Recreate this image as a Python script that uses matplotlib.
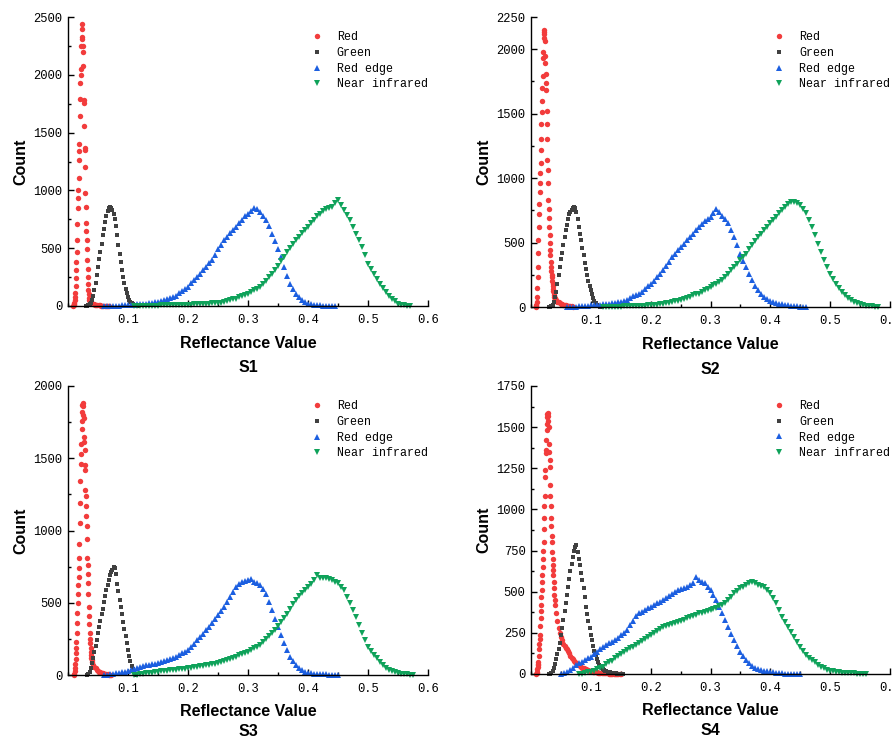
import numpy as np
import matplotlib
matplotlib.use("Agg")
import matplotlib.pyplot as plt
from matplotlib.ticker import MultipleLocator, FixedLocator

# histogram bin widths (reflectance)
RED_STEP = 0.0005
TAIL_STEP = 0.002
GRN_STEP = 0.002
BROAD_STEP = 0.005

labels = ["Red", "Green", "Red edge", "Near infrared"]
panels = ["S1", "S2", "S3", "S4"]
ymax = [2500, 2250, 2000, 1750]

# ---- S1 ----
s1_red_x0 = 0.009
s1_red = [0, 5, 15, 30, 55, 80, 110, 170, 240, 310, 380, 470, 570, 710, 845, 930, 1000, 1110,
          1265, 1340, 1400, 1640, 1790, 1930, 2000, 2050, 2250, 2330, 2440, 2400, 2310, 2250,
          2200, 2080, 1780, 1760, 1560, 1370, 1350, 1200, 980, 860, 720, 650, 570, 490, 400,
          320, 250, 190, 140, 100, 70, 50, 40, 30, 25]
s1_red_tail_x0 = 0.039
s1_red_tail = [22, 18, 15, 12, 10, 8, 6, 5, 4, 3, 3, 2, 2, 1, 1, 0]
s1_grn_x0 = 0.030
s1_grn = [0, 2, 5, 15, 30, 55, 90, 140, 200, 270, 340, 410, 470, 540, 610, 670, 730, 780, 820,
          845, 860, 850, 830, 800, 750, 690, 610, 530, 450, 380, 310, 250, 195, 150, 110, 80,
          55, 38, 25, 15, 9, 5, 2, 1]
s1_re_x0 = 0.060
s1_re = [0, 1, 2, 2, 3, 4, 5, 7, 8, 10, 12, 13, 15, 18, 21, 25, 28, 31, 35, 42, 50, 58, 68, 78,
         90, 110, 128, 145, 165, 195, 225, 250, 280, 310, 340, 370, 395, 440, 490, 530, 570,
         600, 630, 660, 685, 715, 745, 775, 800, 825, 845, 835, 815, 780, 740, 690, 627, 560,
         497, 420, 338, 260, 194, 145, 107, 75, 50, 32, 20, 14, 10, 8, 6, 4, 3, 2, 1, 0]
s1_nir_x0 = 0.110
s1_nir = [0, 1, 1, 2, 2, 3, 3, 4, 4, 5, 5, 6, 6, 7, 8, 8, 9, 10, 10, 12, 13, 14, 15, 17, 19, 21,
          23, 24, 25, 30, 35, 42, 50, 57, 64, 75, 85, 95, 107, 120, 135, 150, 165, 190, 220,
          250, 280, 315, 350, 390, 425, 465, 500, 535, 570, 600, 630, 660, 685, 715, 745, 775,
          800, 820, 835, 850, 860, 895, 915, 870, 830, 785, 740, 685, 627, 570, 510, 440, 367,
          320, 275, 235, 194, 155, 120, 90, 64, 40, 20, 12, 6, 2, 0]

# ---- S2 ----
s2_red_x0 = 0.008
s2_red = [0, 5, 15, 35, 80, 150, 230, 310, 420, 520, 620, 720, 800, 890, 960, 1040, 1120, 1220,
          1300, 1420, 1510, 1600, 1700, 1790, 1930, 1980, 2120, 2150, 2130, 2090, 2060, 1950,
          1890, 1810, 1740, 1680, 1520, 1420, 1300, 1140, 1060, 960, 830, 760, 690, 620, 560,
          500, 440, 400, 350, 310, 280, 250, 230, 200, 180, 160, 140, 125, 110, 95, 80, 70, 62]
s2_red_tail_x0 = 0.042
s2_red_tail = [52, 42, 35, 28, 24, 20, 17, 14, 12, 10, 8, 6, 5, 4, 3]
s2_grn_x0 = 0.030
s2_grn = [0, 2, 5, 12, 35, 75, 120, 180, 250, 310, 370, 420, 480, 540, 600, 640, 680, 720, 740,
          755, 770, 778, 770, 740, 680, 620, 570, 520, 460, 400, 345, 295, 250, 205, 165, 130,
          100, 70, 45, 30, 18, 10, 5, 2, 0]
s2_re_x0 = 0.060
s2_re = [0, 1, 2, 3, 4, 6, 8, 10, 13, 15, 17, 19, 21, 24, 27, 30, 33, 36, 39, 48, 58, 70, 82,
         93, 104, 120, 140, 160, 181, 205, 230, 258, 285, 315, 350, 385, 415, 440, 465, 492,
         518, 545, 570, 598, 622, 645, 665, 685, 700, 730, 760, 735, 705, 680, 648, 600, 544,
         480, 415, 360, 311, 258, 207, 165, 130, 100, 78, 60, 44, 36, 30, 25, 20, 16, 13, 10,
         8, 5, 3, 1, 0]
s2_nir_x0 = 0.120
s2_nir = [0, 1, 1, 2, 2, 3, 3, 4, 5, 5, 6, 7, 8, 9, 10, 12, 13, 16, 19, 22, 25, 29, 33, 38, 43,
          48, 52, 60, 70, 80, 90, 97, 104, 117, 130, 142, 155, 168, 181, 194, 207, 232, 258,
          285, 311, 337, 363, 390, 415, 448, 480, 512, 544, 570, 596, 622, 648, 674, 700, 726,
          752, 778, 803, 812, 816, 805, 790, 760, 726, 675, 622, 555, 492, 425, 363, 310, 259,
          220, 181, 148, 117, 92, 70, 54, 39, 28, 20, 15, 11, 8, 5, 2, 0]

# ---- S3 ----
s3_red_x0 = 0.010
s3_red = [0, 10, 25, 45, 75, 110, 150, 190, 230, 290, 360, 430, 495, 560, 620, 680, 740, 810,
          910, 1050, 1190, 1340, 1460, 1530, 1600, 1700, 1760, 1820, 1870, 1885, 1860, 1800,
          1780, 1650, 1610, 1560, 1450, 1420, 1280, 1240, 1170, 1100, 1030, 940, 810, 760, 700,
          640, 560, 470, 410, 350, 290, 250, 220, 190, 160, 140, 120, 105, 90]
s3_red_tail_x0 = 0.042
s3_red_tail = [70, 55, 45, 37, 30, 24, 19, 15, 12, 9, 7, 5, 4, 3, 2, 1]
s3_grn_x0 = 0.032
s3_grn = [0, 5, 20, 45, 80, 115, 160, 200, 245, 290, 335, 375, 420, 460, 505, 545, 585, 625,
          660, 690, 715, 730, 745, 740, 700, 630, 580, 520, 470, 420, 370, 320, 270, 220, 175,
          130, 95, 65, 40, 20, 8, 2]
s3_re_x0 = 0.060
s3_re = [0, 2, 5, 8, 11, 14, 18, 22, 26, 34, 42, 50, 58, 62, 66, 70, 74, 78, 82, 90, 98, 106,
         114, 120, 127, 138, 150, 162, 175, 195, 215, 240, 265, 285, 310, 333, 357, 385, 415,
         445, 472, 505, 541, 575, 610, 630, 645, 652, 657, 665, 645, 635, 622, 595, 564, 505,
         449, 390, 334, 275, 219, 170, 127, 95, 69, 50, 35, 24, 16, 13, 10, 8, 7, 5, 4, 3, 2,
         1, 0]
s3_nir_x0 = 0.110
s3_nir = [0, 3, 6, 9, 12, 14, 17, 20, 23, 25, 28, 30, 33, 35, 37, 40, 42, 44, 46, 50, 54, 57,
          60, 64, 68, 72, 76, 78, 81, 88, 96, 104, 112, 120, 127, 136, 144, 152, 161, 172, 184,
          195, 207, 225, 248, 268, 288, 312, 338, 365, 392, 425, 455, 488, 518, 545, 568, 590,
          610, 632, 657, 690, 668, 670, 668, 662, 657, 645, 634, 612, 588, 540, 495, 450, 403,
          345, 288, 240, 196, 165, 138, 115, 92, 70, 51, 38, 28, 20, 12, 9, 6, 4, 3, 0]

# ---- S4 ----
s4_red_x0 = 0.009
s4_red = [0, 5, 15, 30, 45, 55, 60, 70, 110, 150, 185, 210, 240, 290, 340, 380, 420, 470, 510,
          560, 600, 650, 700, 750, 800, 880, 950, 1020, 1080, 1200, 1240, 1340, 1360, 1420,
          1480, 1520, 1560, 1580, 1588, 1570, 1540, 1500, 1400, 1350, 1300, 1260, 1150, 1080,
          1020, 950, 900, 840, 800, 740, 700, 660, 630, 600, 560, 520, 480, 450, 420]
s4_red_tail_x0 = 0.042
s4_red_tail = [370, 320, 280, 250, 225, 205, 185, 170, 160, 150, 140, 125, 110, 100, 90, 82, 72,
               65, 58, 52, 46, 42, 38, 34, 31, 28, 25, 22, 20, 18, 16, 14, 13, 12, 10, 9, 8, 7,
               7, 6, 5, 5, 4, 4, 3, 3, 2, 2, 2, 1, 1, 1, 0, 0, 0]
s4_grn_x0 = 0.030
s4_grn = [0, 3, 8, 18, 35, 60, 90, 120, 150, 190, 235, 280, 330, 380, 430, 480, 530, 580, 625,
          670, 710, 745, 770, 783, 740, 700, 660, 615, 570, 520, 465, 410, 365, 320, 280, 240,
          205, 170, 140, 115, 92, 72, 55, 42, 34, 28, 23, 19, 16, 14, 12, 10, 8, 7, 6, 5, 4, 3,
          2, 2, 1, 1, 0]
s4_re_x0 = 0.050
s4_re = [0, 6, 14, 25, 38, 52, 65, 75, 85, 95, 105, 120, 136, 150, 166, 176, 186, 196, 206, 220,
         236, 250, 267, 295, 325, 350, 368, 378, 389, 399, 409, 419, 429, 439, 449, 462, 475,
         488, 500, 508, 515, 522, 530, 540, 550, 590, 570, 560, 550, 530, 510, 480, 449, 410,
         368, 328, 287, 245, 206, 170, 136, 108, 85, 65, 49, 38, 28, 24, 20, 17, 14, 11, 8, 6,
         4, 3, 2, 1, 1, 0, 0]
s4_nir_x0 = 0.080
s4_nir = [0, 3, 6, 10, 14, 21, 29, 37, 45, 58, 70, 82, 95, 108, 120, 133, 146, 156, 166, 176,
          186, 199, 212, 225, 237, 250, 262, 275, 287, 292, 297, 302, 307, 315, 322, 330, 338,
          345, 352, 360, 368, 373, 378, 383, 388, 396, 404, 411, 419, 434, 449, 470, 490, 505,
          520, 530, 540, 550, 560, 550, 540, 535, 530, 510, 490, 460, 429, 390, 348, 318, 287,
          257, 227, 196, 166, 140, 115, 100, 85, 70, 55, 44, 34, 27, 20, 17, 14, 11, 8, 7, 6, 5,
          4, 3, 2, 1, 0]

data = [
    (s1_red_x0, s1_red, s1_red_tail_x0, s1_red_tail, s1_grn_x0, s1_grn, s1_re_x0, s1_re, s1_nir_x0, s1_nir),
    (s2_red_x0, s2_red, s2_red_tail_x0, s2_red_tail, s2_grn_x0, s2_grn, s2_re_x0, s2_re, s2_nir_x0, s2_nir),
    (s3_red_x0, s3_red, s3_red_tail_x0, s3_red_tail, s3_grn_x0, s3_grn, s3_re_x0, s3_re, s3_nir_x0, s3_nir),
    (s4_red_x0, s4_red, s4_red_tail_x0, s4_red_tail, s4_grn_x0, s4_grn, s4_re_x0, s4_re, s4_nir_x0, s4_nir),
]


def bins(x0, step, counts):
    return x0 + step * np.arange(len(counts))


colors = ["#f23c3c", "#404040", "#1c5fe0", "#0fa25a"]
markers = ["o", "s", "^", "v"]
msizes = [3.9, 3.5, 4.6, 4.6]

mono = "Liberation Mono"
sans = "Liberation Sans"

fig = plt.figure(figsize=(8.93, 7.40), dpi=100)
fig.patch.set_facecolor("white")

# axes rectangles in pixels: left, right, top, bottom
rects = [(68, 428, 17, 306), (531, 890, 17, 307), (68, 428, 386, 675), (531, 890, 386, 674)]
# offsets (axes fraction) of x label and panel name below each axis
xlab_y = [-0.131, -0.131, -0.127, -0.127]
name_y = [-0.2145, -0.2145, -0.197, -0.197]
W, H = 893, 740

for i, (l, r, t, b) in enumerate(rects):
    ax = fig.add_axes([l / W, 1 - b / H, (r - l) / W, (b - t) / H])
    rx0, ry, tx0, ty, gx0, gy, ex0, ey, nx0, ny = data[i]
    red_x = np.concatenate([bins(rx0, RED_STEP, ry), bins(tx0, TAIL_STEP, ty)])
    red_y = np.concatenate([ry, ty])
    series = [
        (red_x, red_y),
        (bins(gx0, GRN_STEP, gy), gy),
        (bins(ex0, BROAD_STEP, ey), ey),
        (bins(nx0, BROAD_STEP, ny), ny),
    ]
    for k, (xs, ys) in enumerate(series):
        ax.plot(xs, ys, linestyle="none", marker=markers[k], ms=msizes[k],
                color=colors[k], mec=colors[k], mew=0, label=labels[k], clip_on=False)

    ax.set_xlim(0, 0.6)
    ax.set_ylim(0, ymax[i])
    ax.spines["top"].set_visible(False)
    ax.spines["right"].set_visible(False)
    ax.spines["left"].set_linewidth(1.0)
    ax.spines["bottom"].set_linewidth(1.0)

    ax.xaxis.set_major_locator(FixedLocator([0.1, 0.2, 0.3, 0.4, 0.5, 0.6]))
    ax.xaxis.set_minor_locator(MultipleLocator(0.05))
    if ymax[i] == 1750:
        ax.yaxis.set_major_locator(MultipleLocator(250))
        ax.yaxis.set_minor_locator(MultipleLocator(125))
    elif ymax[i] == 2250:
        ax.yaxis.set_major_locator(FixedLocator([0, 500, 1000, 1500, 2000, 2250]))
        ax.yaxis.set_minor_locator(MultipleLocator(250))
    else:
        ax.yaxis.set_major_locator(MultipleLocator(500))
        ax.yaxis.set_minor_locator(MultipleLocator(250))

    ax.tick_params(which="major", direction="in", length=4, width=1.0, color="black")
    ax.tick_params(which="minor", direction="in", length=2.2, width=1.0, color="black")
    ax.tick_params(axis="x", which="major", pad=6)
    ax.tick_params(axis="y", which="major", pad=4)
    for lab in ax.get_xticklabels() + ax.get_yticklabels():
        lab.set_fontfamily(mono)
        lab.set_fontsize(8.7)
    ax.xaxis.set_major_formatter(matplotlib.ticker.FuncFormatter(lambda v, p: f"{v:.1f}"))

    ax.set_xlabel("Reflectance Value", fontfamily=sans, fontweight="bold", fontsize=11.5, va="center")
    ax.xaxis.set_label_coords(0.5, xlab_y[i])
    ax.set_ylabel("Count", fontfamily=sans, fontweight="bold", fontsize=11.5, va="center")
    ax.yaxis.set_label_coords(-0.13, 0.5)
    ax.text(0.5, name_y[i], panels[i], transform=ax.transAxes, ha="center", va="center",
            fontfamily=sans, fontweight="bold", fontsize=11.5)

    ax.legend(loc="upper left", bbox_to_anchor=(0.675, 0.951), frameon=False, numpoints=1,
              borderpad=0, borderaxespad=0, handlelength=1.0, handletextpad=1.2,
              labelspacing=0.32, prop={"family": mono, "size": 8.4})

fig.savefig("out.png", dpi=100, facecolor="white")
